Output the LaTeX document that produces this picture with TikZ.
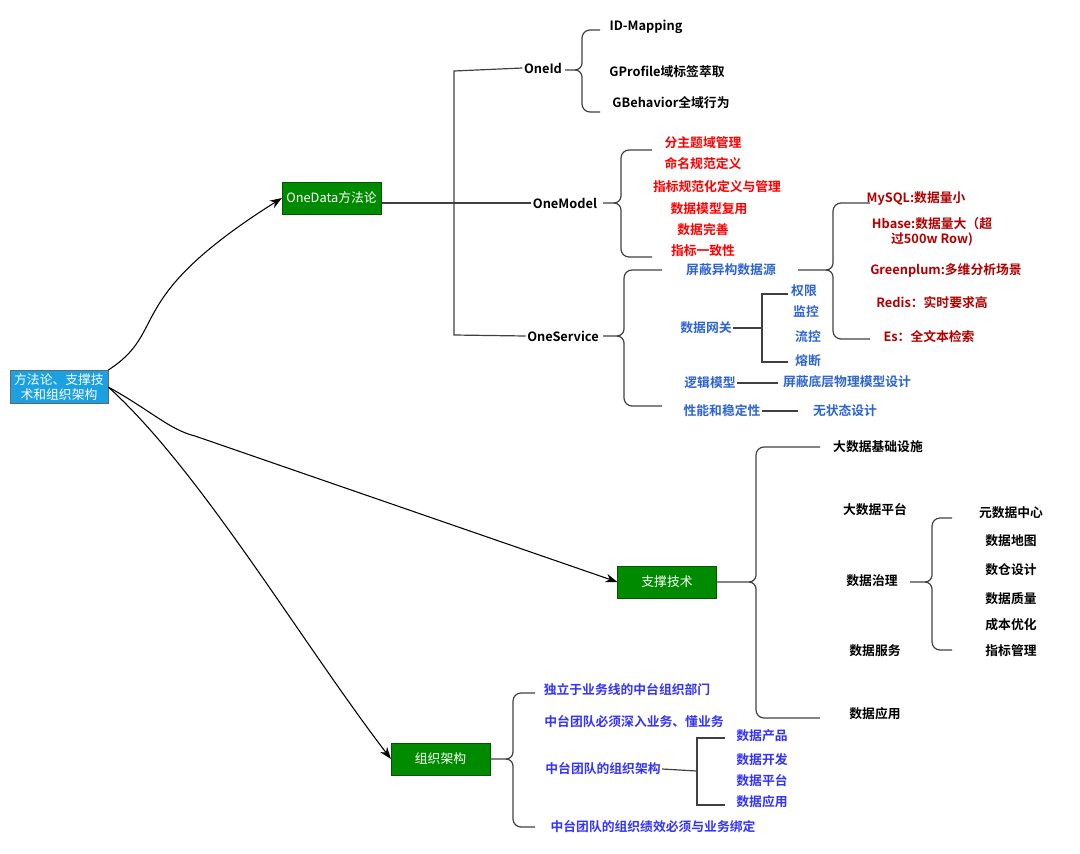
\documentclass[tikz,border=0pt]{standalone}
\usepackage{fontspec}
\setmainfont{Noto Sans CJK SC}[BoldFont={Noto Sans CJK SC Bold}]
\usetikzlibrary{arrows.meta}
\definecolor{rr}{HTML}{FF0000}
\definecolor{bb}{HTML}{2D64D2}
\definecolor{dr}{HTML}{B00000}
\definecolor{ob}{HTML}{3333FF}
\definecolor{gg}{HTML}{008A00}
\definecolor{gb}{HTML}{005700}
\definecolor{sky}{HTML}{1BA1E2}
\newcommand\mybrace[6]{% xb, ytop, ymid, ybot, xleft, xright
  \draw[ln] (#5,#3) -- (#1-7,#3) to[out=0,in=-90] (#1,#3-7) -- (#1,#2+8) to[out=90,in=180] (#1+8,#2) -- (#6,#2);
  \draw[ln] (#1-7,#3) to[out=0,in=90] (#1,#3+7) -- (#1,#4-8) to[out=-90,in=180] (#1+8,#4) -- (#6,#4);}
\begin{document}
\begin{tikzpicture}[x=0.75pt,y=-0.75pt,
  ln/.style={draw=black!75,line width=0.9pt},
  t/.style={font=\bfseries\fontsize{9.6}{11.5}\selectfont,inner sep=1pt,align=center},
  box/.style={draw=gb,fill=gg,text=white,font=\fontsize{9.6}{11.5}\selectfont,minimum width=74pt,minimum height=24pt,inner sep=1pt},
  arr/.style={draw=black,line width=0.8pt,-{Stealth[length=9pt,width=6.5pt]}}]
\useasboundingbox (0,0) rectangle (1080,853);
\node[draw=black!60,fill=sky,text=white,font=\fontsize{9.6}{11.5}\selectfont,align=center,minimum width=73.5pt,minimum height=25pt,inner sep=1pt] (root) at (59,387) {方法论、支撑技\\术和组织架构};
\node[box] (od) at (331.5,198) {OneData方法论};
\node[box] (zc) at (667,582) {支撑技术};
\node[box] (zz) at (440.5,759) {组织架构};
\draw[arr] (root.north east) .. controls (170,330) and (120,300) .. (od.west);
\draw[arr] (root.east) .. controls (150,410) and (170,430) .. (195,436) -- (zc.west);
\draw[arr] (root.east) .. controls (200,470) and (300,640) .. (zz.west);
% OneData
\node[t] (oneid) at (543,68) {OneId};
\node[t] (onemodel) at (565,203) {OneModel};
\node[t] (oneservice) at (563,336) {OneService};
\draw[ln] (od.east |- onemodel.west) -- (onemodel.west);
\draw[ln] (oneid.west) -- (454,71) -- (454,335) -- (oneservice.west);
\mybrace{582}{30}{70}{112}{565}{600}
\node[t] (idm) at (646,27) {ID-Mapping};
\node[t] (gp) at (667,72) {GProfile域标签萃取};
\node[t] (gbh) at (671,103) {GBehavior全域行为};
\mybrace{621}{150}{203}{257}{603}{652}
\begin{scope}[every node/.append style={text=rr}]
\node[t] (m1) at (703,143) {分主题域管理};
\node[t] (m2) at (703,164) {命名规范定义};
\node[t] (m3) at (717,187) {指标规范化定义与管理};
\node[t] (m4) at (709,209) {数据模型复用};
\node[t] (m5) at (703,230) {数据完善};
\node[t] (m6) at (703,251) {指标一致性};
\end{scope}
\mybrace{624}{270}{336}{406}{603}{662}
\begin{scope}[every node/.append style={text=bb}]
\node[t] (s1) at (731,270) {屏蔽异构数据源};
\node[t] (s2) at (706,328) {数据网关};
\node[t] (s3) at (710,383) {逻辑模型};
\node[t] (s4) at (722,411) {性能和稳定性};
\node[t] (g1) at (804,291) {权限};
\node[t] (g2) at (806,312) {监控};
\node[t] (g3) at (808,337) {流控};
\node[t] (g4) at (808,361) {熔断};
\node[t] (s3b) at (847,382) {屏蔽底层物理模型设计};
\node[t] (s4b) at (845,411) {无状态设计};
\end{scope}
\mybrace{833}{203}{270}{339}{798}{870}
\begin{scope}[every node/.append style={text=dr}]
\node[t] (d1) at (916,198) {MySQL:数据量小};
\node[t] (d2) at (932,232) {Hbase:数据量大（超\\过500w Row)};
\node[t] (d3) at (946,270) {Greenplum:多维分析场景};
\node[t] (d4) at (932,303) {Redis：实时要求高};
\node[t] (d5) at (929,337) {Es：全文本检索};
\end{scope}
\draw[ln] (s2.east) -- (762,328);
\draw[ln] (788,294) -- (762,294) -- (762,362) -- (788,362);
\draw[ln] (s3.east) -- (778,383);
\draw[ln] (s4.east) -- (798,411);
% 支撑技术
\mybrace{756}{447}{582}{718}{716}{820}
\node[t] (z1) at (878,447) {大数据基础设施};
\node[t] (z2) at (875,510) {大数据平台};
\node[t] (z3) at (872,581) {数据治理};
\node[t] (z4) at (875,651) {数据服务};
\node[t] (z5) at (875,714) {数据应用};
\mybrace{932}{518}{582}{650}{910}{952}
\node[t] (y1) at (1011,513) {元数据中心};
\node[t] (y2) at (1011,541) {数据地图};
\node[t] (y3) at (1011,570) {数仓设计};
\node[t] (y4) at (1011,599) {数据质量};
\node[t] (y5) at (1011,625) {成本优化};
\node[t] (y6) at (1011,651) {指标管理};
% 组织架构
\mybrace{513}{693}{759}{827}{490}{535}
\begin{scope}[every node/.append style={text=ob}]
\node[t] (o1) at (627,690) {独立于业务线的中台组织部门};
\node[t] (o2) at (634,722) {中台团队必须深入业务、懂业务};
\node[t] (o3) at (603,769) {中台团队的组织架构};
\node[t] (o4) at (653,827) {中台团队的组织绩效必须与业务绑定};
\node[t] (p1) at (762,736) {数据产品};
\node[t] (p2) at (762,760) {数据开发};
\node[t] (p3) at (762,781) {数据平台};
\node[t] (p4) at (762,802) {数据应用};
\end{scope}
\draw[ln] (o3.east) -- (697,771);
\draw[ln] (725,738) -- (697,738) -- (697,805) -- (725,805);
\end{tikzpicture}
\end{document}
